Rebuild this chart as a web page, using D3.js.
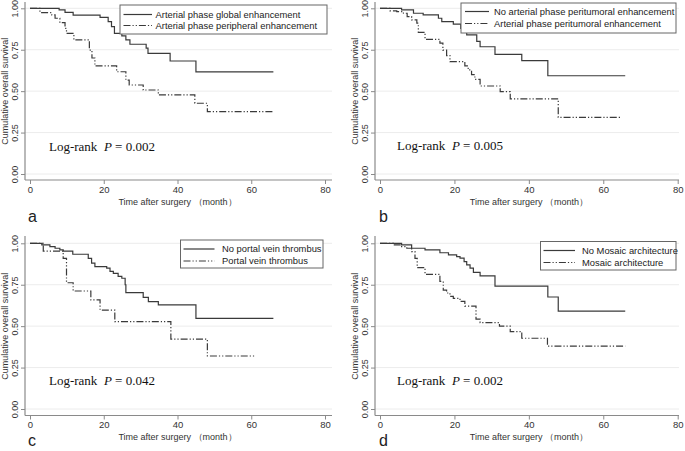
<!DOCTYPE html>
<html><head><meta charset="utf-8">
<script src="https://cdn.jsdelivr.net/npm/d3@7"></script>
<style>body{margin:0;background:#fff}svg{display:block}</style>
</head><body><svg id="chart" width="685" height="451"></svg>
<script>
// ---------- data ----------
const xTicks = [0, 20, 40, 60, 80];
const yTicks = [0, 0.25, 0.5, 0.75, 1];
const yTickLabels = ["0.00", "0.25", "0.50", "0.75", "1.00"];
const panelLetters = ["a", "b", "c", "d"];
const pValues = ["0.002", "0.005", "0.042", "0.002"];
const legendSolid = ["Arterial phase global enhancement", "No arterial phase peritumoral enhancement", "No portal vein thrombus", "No Mosaic architecture"];
const legendDashed = ["Arterial phase peripheral enhancement", "Arterial phase peritumoral enhancement", "Portal vein thrombus", "Mosaic architecture"];
const xTitle = "Time after surgery （month）";
const yTitle = "Cumulative overall survival";

const aSolidT = [0, 7.9, 9.5, 11.7, 19, 21.2, 22.1, 22.9, 24.9, 26, 27.1, 31.5, 32, 38, 45, 66];
const aSolidS = [1, 0.99, 0.976, 0.959, 0.945, 0.919, 0.889, 0.849, 0.833, 0.81, 0.783, 0.76, 0.728, 0.682, 0.616, 0.616];
const aDashT = [0, 2.7, 5.9, 6.8, 8.1, 9.5, 9.9, 11.9, 16.1, 16.8, 17.6, 23.5, 26, 26.9, 30.7, 34.8, 44.7, 48.1, 66];
const aDashS = [1, 0.974, 0.96, 0.94, 0.913, 0.879, 0.849, 0.809, 0.748, 0.70, 0.652, 0.617, 0.567, 0.537, 0.507, 0.477, 0.427, 0.376, 0.376];

const bSolidT = [0, 5.8, 9, 11.6, 15.7, 16.6, 19.7, 21.7, 22.4, 23.3, 26, 26.9, 30.9, 38.1, 45.1, 65.9];
const bSolidS = [1, 0.99, 0.97, 0.96, 0.94, 0.92, 0.905, 0.879, 0.859, 0.84, 0.80, 0.768, 0.722, 0.684, 0.593, 0.593];
const bDashT = [0, 2.7, 4.5, 6.3, 7.3, 8.5, 9.9, 10.3, 12.1, 16.1, 16.9, 17.9, 18.8, 22.8, 23.7, 24.6, 25.5, 26.9, 32.3, 35, 47.9, 65];
const bDashS = [1, 0.985, 0.98, 0.97, 0.95, 0.93, 0.91, 0.855, 0.813, 0.79, 0.748, 0.715, 0.678, 0.652, 0.628, 0.60, 0.571, 0.531, 0.497, 0.453, 0.342, 0.342];

const cSolidT = [0, 3.2, 5.4, 6.8, 8.1, 9, 11.6, 15.8, 16.7, 17.6, 20.8, 21.7, 22.6, 23.9, 24.9, 25.8, 26, 30.7, 32.1, 34.8, 45, 66];
const cSolidS = [1, 0.99, 0.98, 0.97, 0.96, 0.953, 0.934, 0.909, 0.88, 0.859, 0.85, 0.83, 0.819, 0.80, 0.789, 0.75, 0.702, 0.674, 0.648, 0.628, 0.547, 0.547];
const cDashT = [0, 3.6, 9, 9.9, 11.7, 16.5, 19, 23, 38.2, 48.1, 61];
const cDashS = [1, 0.953, 0.909, 0.762, 0.712, 0.658, 0.597, 0.527, 0.422, 0.32, 0.32];

const dSolidT = [0, 5.8, 8.5, 12.1, 16.1, 18.4, 20.6, 21.5, 22.6, 23.3, 24.2, 25.1, 26.9, 30.9, 45.1, 47.9, 65.9];
const dSolidS = [1, 0.99, 0.97, 0.96, 0.943, 0.93, 0.92, 0.91, 0.89, 0.87, 0.85, 0.825, 0.803, 0.742, 0.676, 0.591, 0.591];
const dDashT = [0, 3.6, 5.8, 7.2, 8.5, 9.4, 10.0, 12.1, 16.1, 17, 17.9, 18.8, 19.7, 21.5, 22.8, 25.8, 26.9, 32.1, 35, 38.1, 45, 65.9];
const dDashS = [1, 0.99, 0.98, 0.97, 0.95, 0.909, 0.853, 0.813, 0.77, 0.718, 0.70, 0.68, 0.668, 0.65, 0.621, 0.543, 0.521, 0.50, 0.467, 0.427, 0.38, 0.38];

const solidT = [aSolidT, bSolidT, cSolidT, dSolidT];
const solidS = [aSolidS, bSolidS, cSolidS, dSolidS];
const dashT = [aDashT, bDashT, cDashT, dDashT];
const dashS = [aDashS, bDashS, cDashS, dDashS];

// ---------- layout ----------
const layout = [
  {x0: 30, x1: 325, yTop: 8.3, yBot: 174, axX: 25, axY: 180, right: 332, top: 2,
   leg: {x: 120, y: 5, w: 207, h: 29, lx1: 123.5, lx2: 152, tx: 155.5, r1: 14.5, r2: 25.5},
   lr: {x: 49, y: 151}, letter: {x: 28, y: 222}},
  {x0: 380, x1: 677.7, yTop: 8.3, yBot: 174, axX: 375, axY: 180, right: 679, top: 2,
   leg: {x: 461, y: 3, w: 215, h: 30, lx1: 465, lx2: 489, tx: 494, r1: 11.5, r2: 23.5},
   lr: {x: 397, y: 150}, letter: {x: 379, y: 222}},
  {x0: 30, x1: 325, yTop: 243.3, yBot: 409, axX: 25, axY: 415.5, right: 332, top: 236,
   leg: {x: 180.5, y: 240, w: 142.5, h: 28, lx1: 183.5, lx2: 214.5, tx: 222, r1: 249, r2: 261},
   lr: {x: 49, y: 385}, letter: {x: 28, y: 446}},
  {x0: 380, x1: 677.7, yTop: 243.3, yBot: 409, axX: 375, axY: 415.5, right: 679, top: 236,
   leg: {x: 540.5, y: 241.5, w: 135.5, h: 28.5, lx1: 543.5, lx2: 575, tx: 582, r1: 250.5, r2: 262.5},
   lr: {x: 397, y: 385}, letter: {x: 379, y: 446}}
];

const SANS = "'Liberation Sans', Arial, sans-serif";
const SERIF = "'Liberation Serif', 'Times New Roman', serif";
const lineCol = "#3a3a3a";
const dashPattern = "7,2,1.2,2,1.2,2";

const svg = d3.select("#chart");

layout.forEach((L, i) => {
  const g = svg.append("g");
  const x = d3.scaleLinear().domain([0, 80]).range([L.x0, L.x1]);
  const y = d3.scaleLinear().domain([0, 1]).range([L.yBot, L.yTop]);

  // grid lines
  g.selectAll(".grid").data(yTicks).enter().append("line")
    .attr("x1", L.axX).attr("x2", L.right)
    .attr("y1", d => y(d)).attr("y2", d => y(d))
    .attr("stroke", "#ececec").attr("stroke-width", 1);

  // y axis
  const yAxis = d3.axisLeft(y).tickValues(yTicks).tickSize(4).tickPadding(3)
    .tickFormat((d, k) => yTickLabels[k]);
  const ya = g.append("g").attr("transform", `translate(${L.axX},0)`).call(yAxis);
  ya.select(".domain").remove();
  ya.append("line").attr("x1", 0).attr("x2", 0).attr("y1", L.top).attr("y2", L.axY)
    .attr("stroke", "#8a8a8a").attr("stroke-width", 1.2);
  ya.selectAll(".tick line").attr("stroke", "#8a8a8a");
  ya.selectAll(".tick text")
    .attr("font-family", SANS).attr("font-size", 9).attr("fill", "#333")
    .attr("text-anchor", "middle")
    .attr("x", -10).attr("y", 0).attr("dy", "0.35em")
    .attr("transform", "rotate(-90,-10,0)");

  // x axis
  const xAxis = d3.axisBottom(x).tickValues(xTicks).tickSize(4).tickPadding(2).tickFormat(d3.format("d"));
  const xa = g.append("g").attr("transform", `translate(0,${L.axY})`).call(xAxis);
  xa.select(".domain").remove();
  xa.append("line").attr("x1", L.axX).attr("x2", L.right).attr("y1", 0).attr("y2", 0)
    .attr("stroke", "#8a8a8a").attr("stroke-width", 1.2);
  xa.selectAll(".tick line").attr("stroke", "#8a8a8a");
  xa.selectAll(".tick text").attr("font-family", SANS).attr("font-size", 9.5).attr("fill", "#333");

  // axis titles
  g.append("text").attr("x", x(40)).attr("y", L.axY + 24.5)
    .attr("text-anchor", "middle").attr("font-family", SANS).attr("font-size", 9).attr("fill", "#333")
    .text(xTitle);
  g.append("text").attr("transform", `translate(${L.axX - 17},${(L.yTop + L.yBot) / 2}) rotate(-90)`)
    .attr("text-anchor", "middle").attr("font-family", SANS).attr("font-size", 9).attr("fill", "#333")
    .text(yTitle);

  // curves
  const line = d3.line().x(d => x(d[0])).y(d => y(d[1])).curve(d3.curveStepAfter);
  const sData = d3.zip(solidT[i], solidS[i]);
  const dData = d3.zip(dashT[i], dashS[i]);
  g.append("path").attr("d", line(dData)).attr("fill", "none")
    .attr("stroke", lineCol).attr("stroke-width", 1.2).attr("stroke-dasharray", dashPattern);
  g.append("path").attr("d", line(sData)).attr("fill", "none")
    .attr("stroke", lineCol).attr("stroke-width", 1.2);

  // legend
  const lg = L.leg;
  g.append("rect").attr("x", lg.x).attr("y", lg.y).attr("width", lg.w).attr("height", lg.h)
    .attr("fill", "#fff").attr("stroke", "#666").attr("stroke-width", 1);
  g.append("line").attr("x1", lg.lx1).attr("x2", lg.lx2).attr("y1", lg.r1).attr("y2", lg.r1)
    .attr("stroke", lineCol).attr("stroke-width", 1.2);
  g.append("line").attr("x1", lg.lx1).attr("x2", lg.lx2).attr("y1", lg.r2).attr("y2", lg.r2)
    .attr("stroke", lineCol).attr("stroke-width", 1.2).attr("stroke-dasharray", dashPattern);
  g.append("text").attr("x", lg.tx).attr("y", lg.r1 + 3.3)
    .attr("font-family", SANS).attr("font-size", 9.4).attr("fill", "#222").text(legendSolid[i]);
  g.append("text").attr("x", lg.tx).attr("y", lg.r2 + 3.3)
    .attr("font-family", SANS).attr("font-size", 9.4).attr("fill", "#222").text(legendDashed[i]);

  // log-rank text
  const t = g.append("text").attr("x", L.lr.x).attr("y", L.lr.y)
    .attr("font-family", SERIF).attr("font-size", 13).attr("fill", "#111")
    .style("white-space", "pre");
  t.append("tspan").text("Log-rank  ");
  t.append("tspan").attr("font-style", "italic").text("P");
  t.append("tspan").text(" = " + pValues[i]);

  // panel letter
  g.append("text").attr("x", L.letter.x).attr("y", L.letter.y)
    .attr("font-family", SANS).attr("font-size", 16).attr("fill", "#222").text(panelLetters[i]);
});
</script>
</body></html>
